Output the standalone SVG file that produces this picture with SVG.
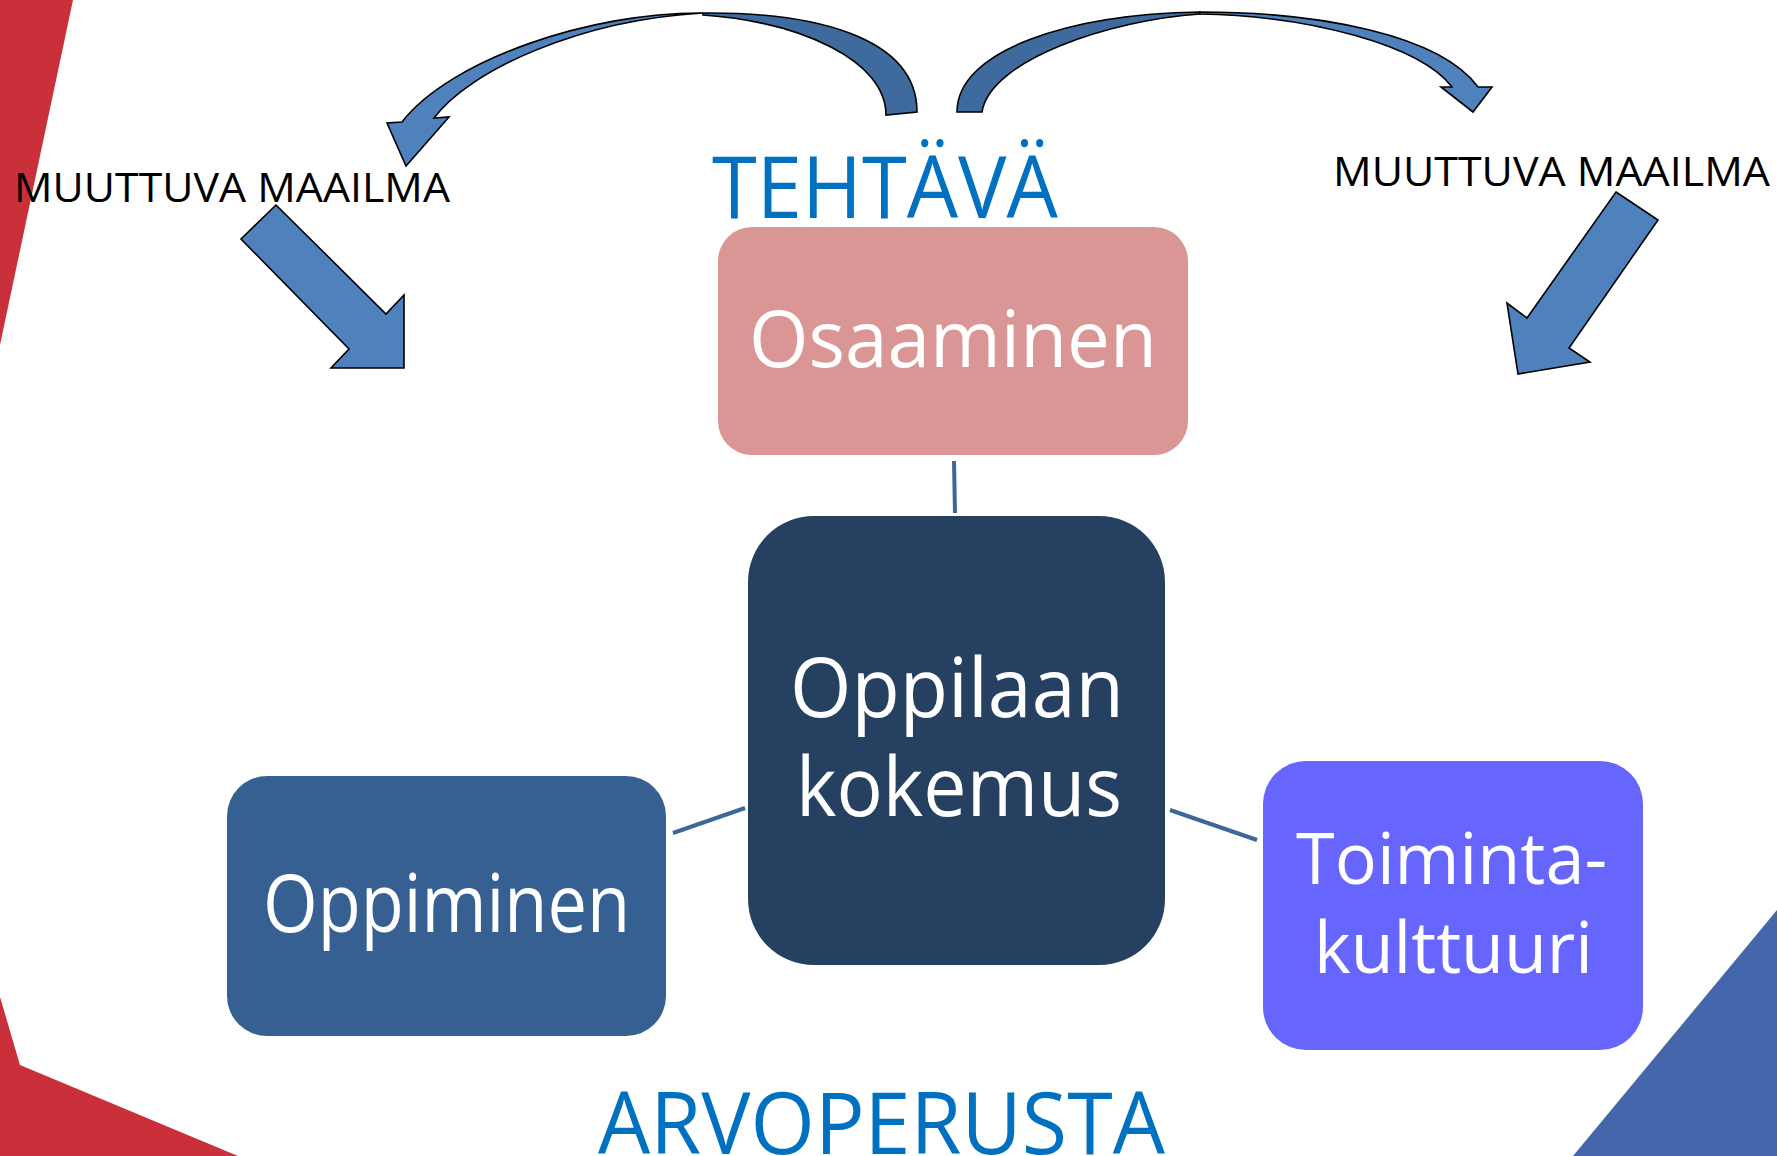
<svg xmlns="http://www.w3.org/2000/svg" width="1777" height="1156" viewBox="0 0 1777 1156">
<style>
.lbl{font-family:"Open Sans","Liberation Sans",sans-serif;fill:#fff}
.big{font-family:"Open Sans","Liberation Sans",sans-serif;fill:#0070C0;font-size:86px}
.mm{font-family:"Open Sans","Liberation Sans",sans-serif;fill:#000;font-size:41px}
.arr{stroke:#000;stroke-width:1.6;stroke-linejoin:miter}
.light{fill:#4F81BD}
.dark{fill:#3F6A9D}
.conn{stroke:#3E6799;stroke-width:4;fill:none}
</style>
<rect width="1777" height="1156" fill="#fff"/>
<g id="background">
<polygon points="0,0 73,0 0,345" fill="#C9303A"/>
<polygon points="0,997 20,1065 238,1156 0,1156" fill="#C9303A"/>
<polygon points="1777,910 1777,1156 1573,1156" fill="#4467AB"/>
</g>
<g id="curved-arrow-left">
<path class="arr dark" d="M703,13 C810,12 917,35 917,112 L886,115 C886,60 800,22 703,15 Z"/>
<path class="arr light" d="M703,13 C590,12 450,60 402,122 L387,123 L406,166 L449,117 L434,118 C470,70 580,20 703,13 Z"/>
</g>
<g id="curved-arrow-right">
<path class="arr dark" d="M957,112 C957,50 1070,14 1200,12 L1200,14 C1110,20 990,60 982,112 Z"/>
<path class="arr light" d="M1200,12 C1320,12 1440,35 1478,87 L1492,87 L1473,112 L1441,87 L1452,87 C1420,45 1310,16 1200,14 Z"/>
</g>
<g id="arrow-left-down">
<polygon class="arr light" points="276,205 386,314 404,295 404,368 331,368 349,349 241,239"/>
</g>
<g id="arrow-right-down">
<polygon class="arr light" points="1616,192 1658,220 1569,348 1590,362 1518,374 1507,303 1527,318"/>
</g>
<g id="labels">
<text class="mm" x="14" y="202" textLength="436" lengthAdjust="spacingAndGlyphs">MUUTTUVA MAAILMA</text>
<text class="mm" x="1333" y="186" textLength="437" lengthAdjust="spacingAndGlyphs">MUUTTUVA MAAILMA</text>
<text class="big" x="712" y="218" textLength="346" lengthAdjust="spacingAndGlyphs">TEHTÄVÄ</text>
<text class="big" x="598" y="1154" textLength="567" lengthAdjust="spacingAndGlyphs">ARVOPERUSTA</text>
</g>
<g id="connectors">
<line class="conn" x1="954" y1="461" x2="955" y2="513"/>
<line class="conn" x1="673" y1="833" x2="745" y2="808"/>
<line class="conn" x1="1170" y1="810" x2="1257" y2="840"/>
</g>
<g id="node-osaaminen">
<rect x="718" y="227" width="470" height="228" rx="34" fill="#D99694"/>
<text class="lbl" x="749" y="367" font-size="78" textLength="408" lengthAdjust="spacingAndGlyphs">Osaaminen</text>
</g>
<g id="node-oppilaan-kokemus">
<rect x="748" y="516" width="417" height="449" rx="66" fill="#264061"/>
<text class="lbl" x="790" y="717" font-size="83" textLength="334" lengthAdjust="spacingAndGlyphs">Oppilaan</text>
<text class="lbl" x="796" y="816" font-size="83" textLength="326" lengthAdjust="spacingAndGlyphs">kokemus</text>
</g>
<g id="node-oppiminen">
<rect x="227" y="776" width="439" height="260" rx="40" fill="#366092"/>
<text class="lbl" x="263" y="932" font-size="80" textLength="367" lengthAdjust="spacingAndGlyphs">Oppiminen</text>
</g>
<g id="node-toimintakulttuuri">
<rect x="1263" y="761" width="380" height="289" rx="43" fill="#6666FF"/>
<text class="lbl" x="1296" y="884" font-size="72" textLength="311" lengthAdjust="spacingAndGlyphs">Toiminta-</text>
<text class="lbl" x="1314" y="973" font-size="72" textLength="279" lengthAdjust="spacingAndGlyphs">kulttuuri</text>
</g>
</svg>
